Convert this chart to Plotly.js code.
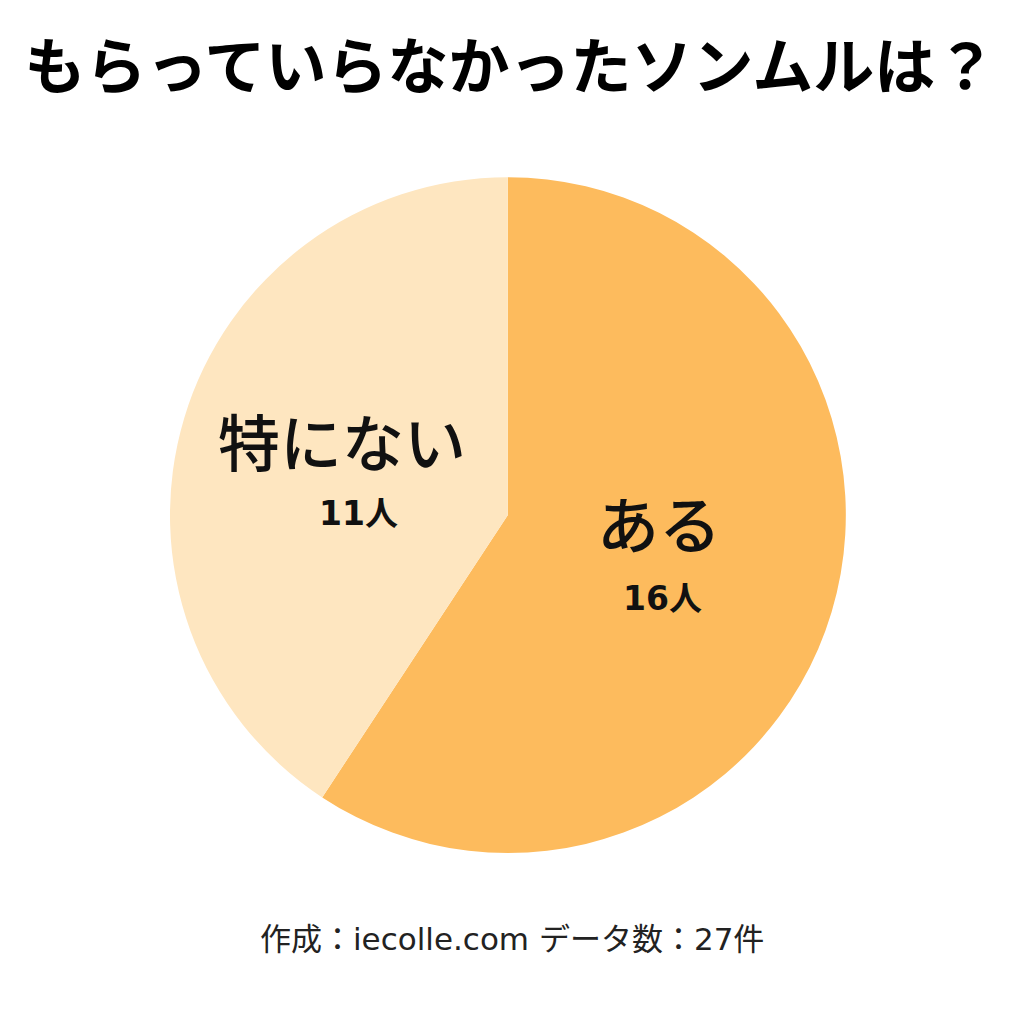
<!DOCTYPE html>
<html>
<head>
<meta charset="utf-8">
<script src="https://cdn.plot.ly/plotly-3.0.1.min.js"></script>
<style>html,body{margin:0;padding:0;background:#fff}#chart{width:1024px;height:1024px}</style>
</head>
<body>
<div id="chart"></div>
<script>
const categories = ["ある", "特にない"];
const counts = [16, 11];
const unit = "人";
const colors = ["#FDBB5D", "#FEE6C0"];
const titleText = "もらっていらなかったソンムルは？";
const footerText = "作成：iecolle.com データ数：27件";

const FONT = '"Noto Sans CJK JP", "Noto Sans", sans-serif';
const FONT_MIX = '"DejaVu Sans", "Noto Sans CJK JP", sans-serif';

// label placement (paper coords) for each category: [nameX, nameY, countX, countY]
const labelPos = [
  [0.6436, 0.490, 0.6465, 0.416],
  [0.334, 0.570, 0.350, 0.499]
];

const annotations = [];
categories.forEach((c, i) => {
  const p = labelPos[i];
  annotations.push({xref:'paper', yref:'paper', x:p[0], y:p[1], text:c, showarrow:false,
    xanchor:'center', yanchor:'middle', font:{family:FONT, size:62, weight:500, color:'#111'}});
  annotations.push({xref:'paper', yref:'paper', x:p[2], y:p[3], text:'<b>' + counts[i] + unit + '</b>', showarrow:false,
    xanchor:'center', yanchor:'middle', font:{family:FONT_MIX, size:33, color:'#111'}});
});
annotations.push({xref:'paper', yref:'paper', x:0.5, y:0.083, text:footerText, showarrow:false,
  xanchor:'center', yanchor:'middle', font:{family:FONT_MIX, size:31, color:'#222'}});

const data = [{
  type:'pie',
  labels: categories,
  values: counts,
  sort:false,
  direction:'clockwise',
  rotation:0,
  marker:{colors: colors, line:{width:0}},
  textinfo:'none',
  hoverinfo:'none',
  showlegend:false,
  domain:{x:[0.166, 0.826], y:[0.167, 0.827]}
}];

const layout = {
  width:1024, height:1024,
  margin:{l:0, r:0, t:0, b:0},
  paper_bgcolor:'#ffffff',
  title:{text:'<b>' + titleText + '</b>', x:0.4985, xanchor:'center', y:0.934, yanchor:'middle', yref:'paper',
    font:{family:FONT, size:61, color:'#000'}},
  annotations: annotations,
  showlegend:false
};

Plotly.newPlot('chart', data, layout, {staticPlot:true, displayModeBar:false});
</script>
</body>
</html>
